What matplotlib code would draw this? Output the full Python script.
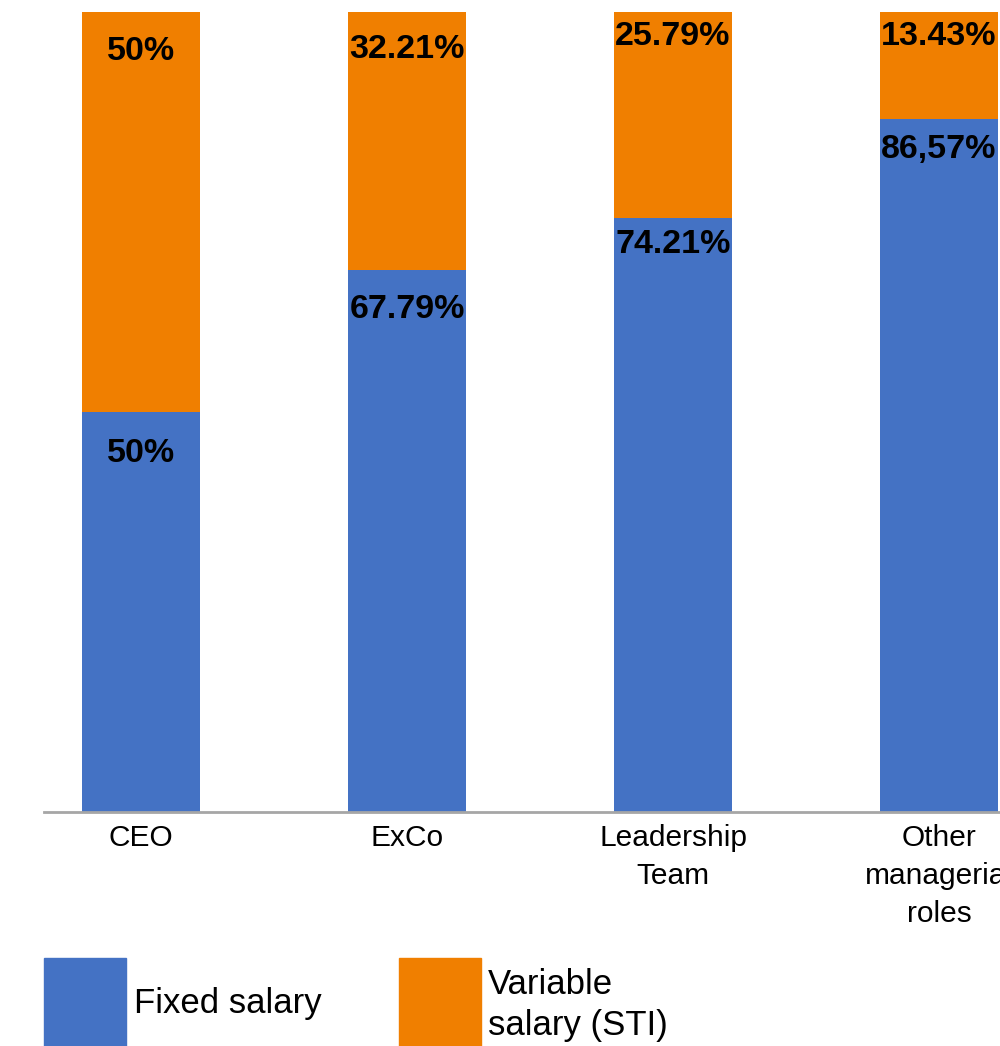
import matplotlib
matplotlib.use("Agg")
import matplotlib.pyplot as plt
from matplotlib.patches import Rectangle
import numpy as np

categories = ["CEO", "ExCo", "Leadership\nTeam", "Other\nmanagerial\nroles"]
fixed = [50, 67.79, 74.21, 86.57]
variable = [50, 32.21, 25.79, 13.43]
fixed_labels = ["50%", "67.79%", "74.21%", "86,57%"]
variable_labels = ["50%", "32.21%", "25.79%", "13.43%"]
series_names = ["Fixed salary", "Variable\nsalary (STI)"]

BLUE = "#4472C4"
ORANGE = "#F07F00"
plt.rcParams['font.family'] = ['Liberation Sans', 'DejaVu Sans']

fig = plt.figure(figsize=(10, 10.46), dpi=100)
H = 1046
ax = fig.add_axes([0.0, 1 - 812 / H, 1.0, 800 / H])
x = np.arange(len(categories))
w = 118 / 266
b1 = ax.bar(x, fixed, width=w, color=BLUE, label=series_names[0], zorder=2)
b2 = ax.bar(x, variable, width=w, bottom=fixed, color=ORANGE,
            label=series_names[1], zorder=2)

ax.set_xlim(-141 / 266, (1000 - 141) / 266)
ax.set_ylim(0, 100)

fix_off = [5.2, 5.0, 3.3, 3.8]
var_off = [5.0, 4.75, 3.1, 3.1]
for i in range(len(categories)):
    ax.text(x[i], fixed[i] - fix_off[i], fixed_labels[i], ha="center", va="center",
            fontsize=24.5, fontweight="bold", color="black", zorder=3)
    ax.text(x[i], fixed[i] + variable[i] - var_off[i], variable_labels[i], ha="center",
            va="center", fontsize=24.5, fontweight="bold", color="black", zorder=3)

for s in ["top", "right", "left"]:
    ax.spines[s].set_visible(False)
ax.spines["bottom"].set_color("#A6A6A6")
ax.spines["bottom"].set_linewidth(2)
ax.spines["bottom"].set_bounds(-97 / 266, (1000 - 141) / 266)
ax.set_yticks([])
ax.set_xticks(x)
ax.set_xticklabels(categories, fontsize=21.5, linespacing=1.45)
ax.tick_params(axis="x", length=0, pad=9)

# legend drawn manually to match the large square swatches
sw, sh = 82 / 1000, 88 / H
fig.add_artist(Rectangle((44 / 1000, 0), sw, sh, color=BLUE, transform=fig.transFigure))
fig.text(134 / 1000, 1 - 1003 / H, series_names[0], fontsize=25, va="center", ha="left")
fig.add_artist(Rectangle((399 / 1000, 0), sw, sh, color=ORANGE, transform=fig.transFigure))
fig.text(488 / 1000, 1 - 1005 / H, series_names[1], fontsize=25, va="center", ha="left",
         linespacing=1.3)

fig.savefig("out.png", dpi=100)
